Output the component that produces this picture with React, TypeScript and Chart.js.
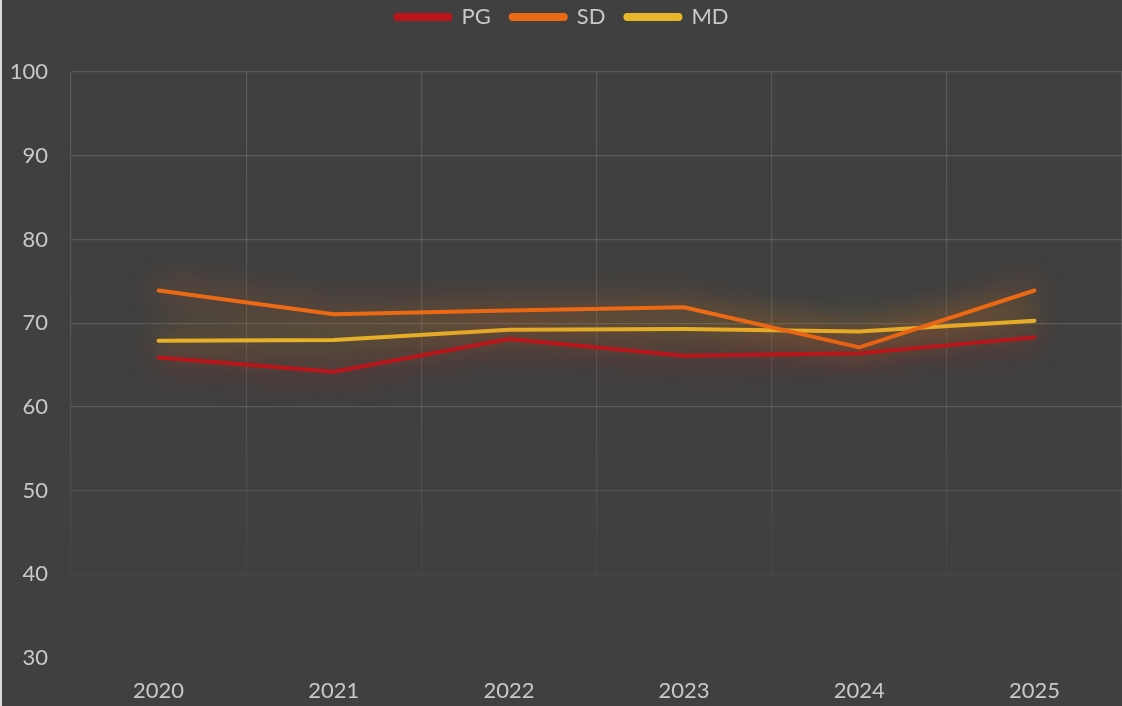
import React, { useEffect, useRef } from "react";
import { Chart, registerables } from "chart.js";

Chart.register(...registerables);

const years = ["2020", "2021", "2022", "2023", "2024", "2025"];
const pgValues = [65.9, 64.2, 68.1, 66.1, 66.4, 68.3];
const sdValues = [73.9, 71.05, 71.5, 71.9, 67.1, 73.9];
const mdValues = [67.9, 68.0, 69.2, 69.3, 69.0, 70.3];
const yTicks = [30, 40, 50, 60, 70, 80, 90, 100];

const PG_COLOR = "#b8161b";
const SD_COLOR = "#ec6a14";
const MD_COLOR = "#e8b82a";
const FONT = "Lato, 'Open Sans', sans-serif";
const TEXT = "#c8c8c8";

const glowPlugin = {
  id: "glow",
  beforeDatasetDraw(chart: any, args: any) {
    const ctx = chart.ctx;
    ctx.save();
    const ds = chart.data.datasets[args.index];
    ctx.shadowColor = ds.borderColor;
    ctx.shadowBlur = 32;
    ctx.shadowOffsetX = 0;
    ctx.shadowOffsetY = 0;
  },
  afterDatasetDraw(chart: any) {
    chart.ctx.restore();
  },
};

const legendSpacing = {
  id: "legendSpacing",
  beforeInit(chart: any) {
    const legend = chart.legend;
    if (!legend) return;
    const origFit = legend.fit;
    legend.fit = function () {
      origFit.call(this);
      this.height = 72;
    };
    const origDraw = legend.draw;
    legend.draw = function (...args: any[]) {
      const ctx = this.ctx;
      ctx.save();
      ctx.translate(0, -14);
      origDraw.apply(this, args);
      ctx.restore();
    };
  },
};

export default function App() {
  const ref = useRef<HTMLCanvasElement | null>(null);
  useEffect(() => {
    if (!ref.current) return;
    const chart = new Chart(ref.current, {
      type: "line",
      data: {
        labels: years,
        datasets: [
          { label: "PG", data: pgValues, borderColor: PG_COLOR, backgroundColor: PG_COLOR },
          { label: "SD", data: sdValues, borderColor: SD_COLOR, backgroundColor: SD_COLOR },
          { label: "MD", data: mdValues, borderColor: MD_COLOR, backgroundColor: MD_COLOR },
        ].map((d) => ({
          ...d,
          borderWidth: 4,
          pointRadius: 0,
          tension: 0,
          borderCapStyle: "round" as const,
          borderJoinStyle: "round" as const,
          fill: false,
        })),
      },
      options: {
        animation: false,
        responsive: true,
        maintainAspectRatio: false,
        layout: { padding: 0 },
        plugins: {
          tooltip: { enabled: false },
          legend: {
            position: "top",
            labels: {
              color: TEXT,
              font: { family: FONT, size: 22 },
              boxWidth: 55,
              boxHeight: 4,
              useBorderRadius: true,
              borderRadius: 2,
              padding: 20,
            },
          },
        },
        scales: {
          x: {
            offset: true,
            border: { display: false },
            afterFit: (s: any) => {
              s.height = 48;
            },
            grid: {
              offset: true,
              drawTicks: false,
              lineWidth: 1.2,
              color: (c: any) => {
                const ch = c.chart;
                const ca = ch.chartArea;
                if (!ca) return "rgba(255,255,255,0.12)";
                const g = ch.ctx.createLinearGradient(0, ca.top, 0, ca.bottom);
                g.addColorStop(0, "rgba(255,255,255,0.13)");
                g.addColorStop(0.6, "rgba(255,255,255,0.1)");
                g.addColorStop(0.88, "rgba(255,255,255,0.02)");
                g.addColorStop(1, "rgba(255,255,255,0)");
                return g;
              },
            },
            ticks: {
              color: TEXT,
              font: { family: FONT, size: 22 },
              padding: 20,
            },
          },
          y: {
            min: 30,
            max: 100,
            border: { display: false },
            afterFit: (s: any) => {
              s.width = 69;
            },
            afterBuildTicks: (axis: any) => {
              axis.ticks = yTicks.map((v) => ({ value: v }));
            },
            grid: {
              drawTicks: false,
              lineWidth: 1.2,
              color: (c: any) => {
                const v = c.tick ? c.tick.value : 100;
                if (v >= 60) return "rgba(255,255,255,0.13)";
                if (v === 50) return "rgba(255,255,255,0.08)";
                if (v === 40) return "rgba(255,255,255,0.03)";
                return "rgba(255,255,255,0)";
              },
            },
            ticks: {
              color: TEXT,
              font: { family: FONT, size: 22 },
              padding: 23,
            },
          },
        },
      },
      plugins: [glowPlugin, legendSpacing],
    } as any);
    return () => chart.destroy();
  }, []);

  return (
    <div
      style={{
        position: "fixed",
        left: 0,
        top: 0,
        width: 1122,
        height: 706,
        background: "#dcdcdc",
      }}
    >
      <div
        style={{
          position: "absolute",
          left: 2,
          top: 0,
          width: 1120,
          height: 706,
          background: "#404040",
        }}
      >
        <canvas ref={ref} />
      </div>
    </div>
  );
}
